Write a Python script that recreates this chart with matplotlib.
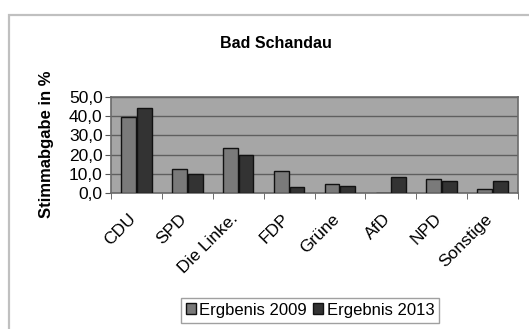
import numpy as np
import matplotlib.pyplot as plt
import matplotlib.transforms as mtransforms
from matplotlib.patches import Rectangle
from matplotlib.ticker import FuncFormatter, FixedLocator

plt.rcParams['font.family'] = ['Liberation Sans', 'DejaVu Sans']

# Daten
parteien = ['CDU', 'SPD', 'Die Linke.', 'FDP', 'Grüne', 'AfD', 'NPD', 'Sonstige']
ergebnis_2009 = [39.7, 12.4, 23.4, 11.7, 4.5, 0.0, 7.2, 2.1]
ergebnis_2013 = [44.2, 10.1, 19.7, 3.3, 3.6, 8.4, 6.2, 6.0]
yticks = [0, 10, 20, 30, 40, 50]

fig = plt.figure(figsize=(5.29, 3.29), dpi=100)
fig.patches.append(Rectangle((8.5 / 529, -0.01), 1.0, 1 - 14.5 / 329 + 0.01,
                             transform=fig.transFigure, fill=False,
                             edgecolor='#c0c0c0', linewidth=1.6))

ax = fig.add_axes([111 / 529, 1 - 193 / 329, 407 / 529, 96 / 329])
ax.set_facecolor('#a6a6a6')

x = np.arange(len(parteien))
w = 0.29
ax.bar(x - w / 2 - 0.01, ergebnis_2009, w, color='#7a7a7a', edgecolor='#111111',
       linewidth=1.0, label='Ergbenis 2009', zorder=3)
ax.bar(x + w / 2 + 0.01, ergebnis_2013, w, color='#333333', edgecolor='#111111',
       linewidth=1.0, label='Ergebnis 2013', zorder=3)

ax.set_xlim(-0.5, len(parteien) - 0.5)
ax.set_ylim(0, 50)
ax.set_yticks(yticks)
ax.yaxis.set_major_formatter(FuncFormatter(lambda v, p: f'{v:.1f}'.replace('.', ',')))
ax.grid(axis='y', color='#5f5f5f', linewidth=1.0, zorder=1)
ax.set_axisbelow(True)

ax.set_xticks(x)
ax.set_xticklabels(parteien, rotation=45, ha='right', va='top',
                   rotation_mode='anchor', fontsize=12.5)
ax.tick_params(axis='x', length=0, pad=13)
shift = mtransforms.ScaledTranslation(-8 / 100, 0, fig.dpi_scale_trans)
for lbl in ax.get_xticklabels():
    lbl.set_transform(lbl.get_transform() + shift)
ax.xaxis.set_minor_locator(FixedLocator(np.arange(-0.5, len(parteien))))
ax.tick_params(axis='x', which='minor', length=4, direction='out', color='#555555')
ax.tick_params(axis='y', labelsize=12.5, length=4, color='#555555', pad=2)

for s in ax.spines.values():
    s.set_color('#6a6a6a')
    s.set_linewidth(1.2)

fig.text(276 / 529, 1 - 43 / 329, 'Bad Schandau', ha='center', va='center',
         fontsize=11.5, fontweight='bold')
fig.text(47 / 529, 1 - 144 / 329, 'Stimmabgabe in %', ha='center', va='center',
         rotation=90, fontsize=12, fontweight='bold')

handles, labels = ax.get_legend_handles_labels()
leg = fig.legend(handles, labels, loc='center', bbox_to_anchor=(310 / 529, 1 - 310 / 329),
                 ncol=2, fontsize=12, frameon=True, fancybox=False, handlelength=0.6,
                 handleheight=0.6, handletextpad=0.2, columnspacing=0.4,
                 borderpad=0.3, edgecolor='#888888')
leg.get_frame().set_linewidth(1.0)

fig.savefig('out.png', dpi=100)
